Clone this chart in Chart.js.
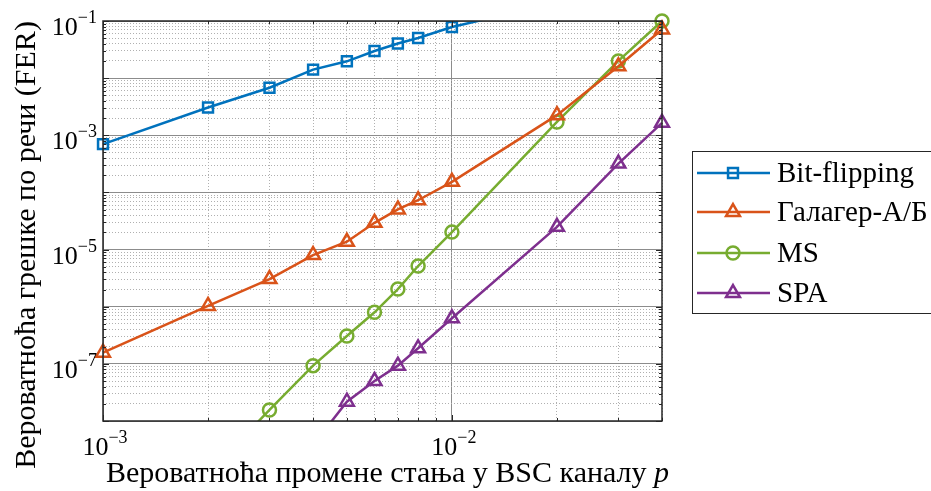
<!DOCTYPE html>
<html><head><meta charset="utf-8">
<script src="https://cdn.jsdelivr.net/npm/chart.js@4/dist/chart.umd.min.js"></script>
<style>html,body{margin:0;padding:0;background:#fff}</style>
</head><body>
<canvas id="c" width="931" height="491"></canvas>
<script>
// ---- data ----
const seriesNames = ['Bit-flipping', 'Галагер-А/Б', 'MS', 'SPA'];
const bfP   = [0.001, 0.002, 0.003, 0.004, 0.005, 0.006, 0.007, 0.008, 0.01, 0.02];
const bfFER = [7.0e-4, 3.06e-3, 6.8e-3, 1.41e-2, 1.97e-2, 2.99e-2, 4.03e-2, 5.05e-2, 7.85e-2, 0.21];
const galP   = [0.001, 0.002, 0.003, 0.004, 0.005, 0.006, 0.007, 0.008, 0.01, 0.02, 0.03, 0.04];
const galFER = [1.57e-7, 1.03e-6, 3.05e-6, 8.0e-6, 1.37e-5, 2.94e-5, 5.05e-5, 7.3e-5, 1.53e-4, 2.25e-3, 1.61e-2, 7.1e-2];
const msP   = [0.002, 0.003, 0.004, 0.005, 0.006, 0.007, 0.008, 0.01, 0.02, 0.03, 0.04];
const msFER = [1.2e-9, 1.56e-8, 9.3e-8, 3.07e-7, 7.98e-7, 2.04e-6, 5.15e-6, 2.02e-5, 1.71e-3, 2.0e-2, 1.0e-1];
const spaP   = [0.004, 0.005, 0.006, 0.007, 0.008, 0.01, 0.02, 0.03, 0.04];
const spaFER = [3.8e-9, 2.18e-8, 5.02e-8, 9.3e-8, 1.87e-7, 6.27e-7, 2.5e-5, 3.2e-4, 1.65e-3];

const xTickValues = [1e-3, 1e-2];
const xTickExps   = ['−3', '−2'];
const yTickValues = [1e-7, 1e-5, 1e-3, 1e-1];
const yTickExps   = ['−7', '−5', '−3', '−1'];
const xTitle = 'Вероватноћа промене стања у BSC каналу ';
const xTitleVar = 'p';
const yTitle = 'Вероватноћа грешке по речи (FER)';

const X_MIN = 1e-3, X_MAX = 0.04, Y_MIN = 1e-8, Y_MAX = 1e-1;

const colors = ['#0072BD', '#D95319', '#77AC30', '#7E2F8E'];
const styles = ['rect', 'triangle', 'circle', 'triangle'];
const radii  = [7, 8, 6.5, 8];
const SERIF = '"Liberation Serif", "Times New Roman", serif';

function pts(xs, ys) { return xs.map((x, i) => ({x: x, y: ys[i]})); }
function isMajor(v) { if (!v) return false; const l = Math.log10(v); return Math.abs(l - Math.round(l)) < 1e-6; }
function gridVals(min, max) {
  const out = [];
  for (let e = Math.floor(Math.log10(min)); e <= Math.ceil(Math.log10(max)); e++) {
    for (let m = 1; m <= 9; m++) {
      const v = m * Math.pow(10, e);
      if (v >= min * 0.9999 && v <= max * 1.0001) out.push(v);
    }
  }
  return out;
}

const clips = [
  {left: 10, top: 0, right: 0, bottom: 0},
  {left: 10, top: 10, right: 10, bottom: 0},
  {left: 0, top: 10, right: 10, bottom: 0},
  {left: 0, top: 0, right: 10, bottom: 0}
];
const seriesData = [pts(bfP, bfFER), pts(galP, galFER), pts(msP, msFER), pts(spaP, spaFER)];

const datasets = seriesNames.map((n, i) => ({
  label: n,
  data: seriesData[i],
  borderColor: colors[i],
  backgroundColor: 'rgba(0,0,0,0)',
  pointBorderColor: colors[i],
  pointBackgroundColor: 'rgba(0,0,0,0)',
  pointStyle: styles[i],
  pointRadius: radii[i],
  pointBorderWidth: 2.5,
  borderWidth: 2.5,
  tension: 0,
  clip: clips[i]
}));

function drawPow(ctx, x, y, exp, align) {
  const f1 = '26px ' + SERIF, f2 = '18px ' + SERIF;
  ctx.font = f1; const w1 = ctx.measureText('10').width;
  ctx.font = f2; const w2 = ctx.measureText(exp).width;
  const tw = w1 + w2;
  let x0 = align === 'center' ? x - tw / 2 : x - tw;
  ctx.textAlign = 'left'; ctx.textBaseline = 'alphabetic';
  ctx.font = f1; ctx.fillText('10', x0, y);
  ctx.font = f2; ctx.fillText(exp, x0 + w1, y - 12);
}

const deco = {
  id: 'deco',
  afterDraw(chart) {
    const ctx = chart.ctx, ca = chart.chartArea;
    const xs = chart.scales.x, ys = chart.scales.y;
    ctx.save();
    ctx.fillStyle = '#000';
    ctx.strokeStyle = '#262626';
    ctx.lineWidth = 1;
    ctx.beginPath();
    gridVals(X_MIN, X_MAX).forEach(v => {
      const px = Math.round(xs.getPixelForValue(v)) + 0.5;
      const len = isMajor(v) ? 6 : 3;
      ctx.moveTo(px, ca.bottom); ctx.lineTo(px, ca.bottom - len);
      ctx.moveTo(px, ca.top); ctx.lineTo(px, ca.top + len);
    });
    gridVals(Y_MIN, Y_MAX).forEach(v => {
      const py = Math.round(ys.getPixelForValue(v)) + 0.5;
      const len = isMajor(v) ? 6 : 3;
      ctx.moveTo(ca.left, py); ctx.lineTo(ca.left + len, py);
      ctx.moveTo(ca.right, py); ctx.lineTo(ca.right - len, py);
    });
    ctx.stroke();
    ctx.lineWidth = 1.5;
    ctx.strokeRect(ca.left, ca.top, ca.right - ca.left, ca.bottom - ca.top);

    // tick labels
    xTickValues.forEach((v, i) => drawPow(ctx, xs.getPixelForValue(v) + 2, ca.bottom + 34, xTickExps[i], 'center'));
    yTickValues.forEach((v, i) => drawPow(ctx, ca.left - 6, ys.getPixelForValue(v) + 14, yTickExps[i], 'right'));

    // x title
    ctx.textBaseline = 'alphabetic'; ctx.textAlign = 'left';
    const fT = '30px ' + SERIF, fTi = 'italic 30px ' + SERIF;
    ctx.font = fT; const wa = ctx.measureText(xTitle).width;
    ctx.font = fTi; const wb = ctx.measureText(xTitleVar).width;
    const cx = (ca.left + ca.right) / 2 + 5;
    const x0 = cx - (wa + wb) / 2;
    ctx.font = fT; ctx.fillText(xTitle, x0, 482);
    ctx.font = fTi; ctx.fillText(xTitleVar, x0 + wa, 482);

    // y title
    ctx.save();
    ctx.translate(27, 245);
    ctx.rotate(-Math.PI / 2);
    ctx.font = fT; ctx.textAlign = 'center'; ctx.textBaseline = 'middle';
    ctx.fillText(yTitle, 0, 0);
    ctx.restore();

    // legend
    ctx.lineWidth = 1; ctx.strokeStyle = '#262626';
    ctx.fillStyle = '#fff';
    ctx.fillRect(692, 151, 260, 162);
    ctx.strokeRect(692.5, 151.5, 260, 162);
    const rows = [173, 212, 253, 293];
    chart.data.datasets.forEach((ds, i) => {
      const y = rows[i];
      ctx.strokeStyle = ds.borderColor; ctx.lineWidth = 2.5;
      ctx.beginPath(); ctx.moveTo(697, y); ctx.lineTo(770, y); ctx.stroke();
      ctx.fillStyle = 'rgba(0,0,0,0)';
      Chart.helpers.drawPoint(ctx, {pointStyle: ds.pointStyle, radius: ds.pointRadius, borderWidth: 2.5, rotation: 0}, 733, y);
      ctx.fillStyle = '#000';
      ctx.font = '29px ' + SERIF; ctx.textAlign = 'left'; ctx.textBaseline = 'alphabetic';
      ctx.fillText(ds.label, 777, y + 9);
    });
    ctx.restore();
  }
};

new Chart(document.getElementById('c'), {
  type: 'line',
  data: {datasets: datasets},
  options: {
    responsive: false,
    devicePixelRatio: 1,
    animation: false,
    layout: {padding: {left: 0, top: 21, right: 269, bottom: 0}},
    plugins: {legend: {display: false}, tooltip: {enabled: false}},
    scales: {
      x: {
        type: 'logarithmic', min: X_MIN, max: X_MAX, position: 'bottom',
        afterBuildTicks: s => { s.ticks = gridVals(X_MIN, X_MAX).map(v => ({value: v, major: isMajor(v)})); },
        afterFit: s => { s.height = 70; },
        ticks: {display: false, autoSkip: false},
        grid: {color: c => (c.tick && isMajor(c.tick.value)) ? '#8c8c8c' : '#b0b0b0', lineWidth: 1, drawTicks: false},
        border: {display: false, dash: c => (c.tick && !isMajor(c.tick.value)) ? [1, 2] : []}
      },
      y: {
        type: 'logarithmic', min: Y_MIN, max: Y_MAX, position: 'left',
        afterBuildTicks: s => { s.ticks = gridVals(Y_MIN, Y_MAX).map(v => ({value: v, major: isMajor(v)})); },
        afterFit: s => { s.width = 103; },
        ticks: {display: false, autoSkip: false},
        grid: {color: c => (c.tick && isMajor(c.tick.value)) ? '#8c8c8c' : '#b0b0b0', lineWidth: 1, drawTicks: false},
        border: {display: false, dash: c => (c.tick && !isMajor(c.tick.value)) ? [1, 2] : []}
      }
    }
  },
  plugins: [deco]
});
</script>
</body></html>
